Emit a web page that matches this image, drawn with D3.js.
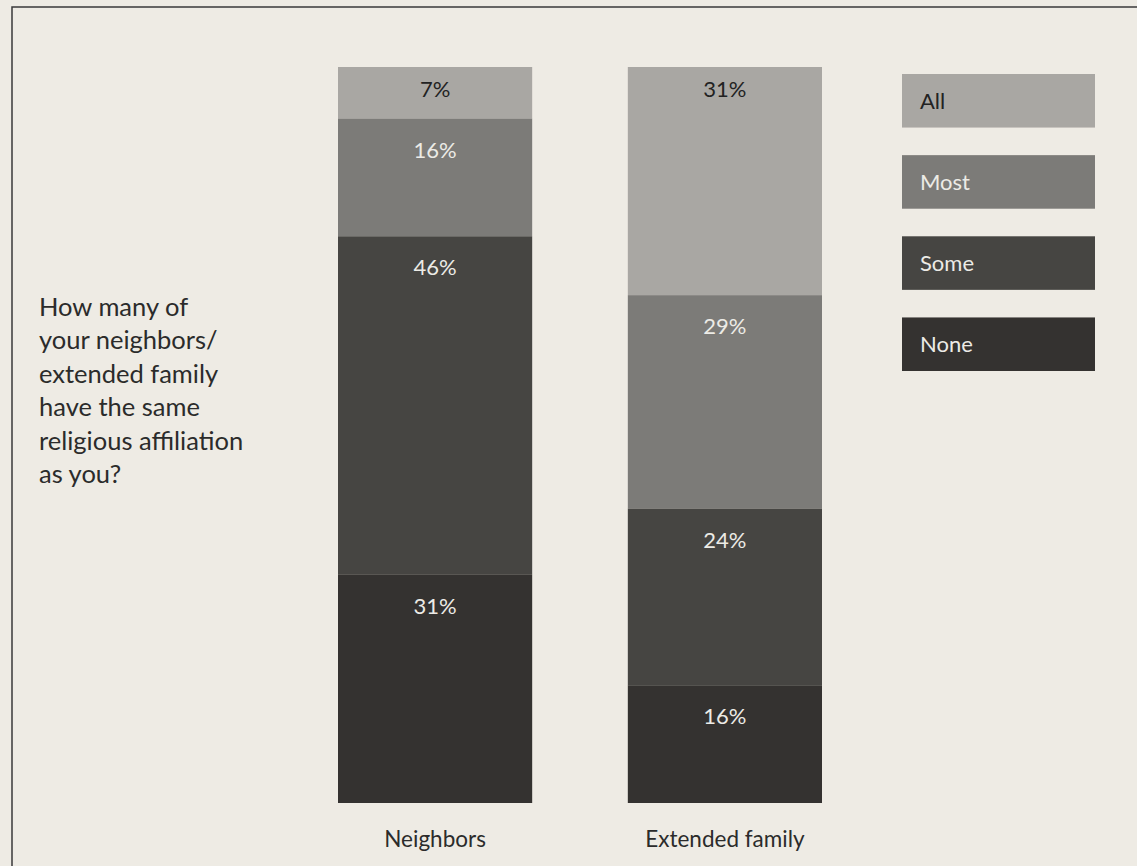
<!DOCTYPE html>
<html>
<head>
<meta charset="utf-8">
<script src="https://cdn.jsdelivr.net/npm/d3@7"></script>
<style>
  body { margin: 0; background: #eeebe4; }
  svg { display: block; font-family: Lato, 'Open Sans', sans-serif; }
</style>
</head>
<body>
<div class="bar-chart-container"></div>
<script>
// categories and series
const groups = ['Neighbors', 'Extended family'];
const levels = ['All', 'Most', 'Some', 'None'];
const neighbors = [7, 16, 46, 31];
const extendedFamily = [31, 29, 24, 16];
const question = ['How many of', 'your neighbors/', 'extended family', 'have the same', 'religious affiliation', 'as you?'];

const colors = ['#a9a7a3', '#7c7b78', '#464542', '#343230'];
const textColors = ['#222', '#ecebe6', '#ecebe6', '#ecebe6'];

// one row per group, keyed by level
const rows = groups.map((g, i) => {
    const vals = i === 0 ? neighbors : extendedFamily;
    const row = { group: g };
    levels.forEach((l, j) => row[l] = vals[j]);
    return row;
});

const width = 1137;
const height = 866;

const svg = d3.select('.bar-chart-container')
    .append('svg')
    .attr('width', width)
    .attr('height', height);

// frame lines (top and left only)
svg.append('path')
    .attr('d', `M12,${height} L12,7 L${width},7`)
    .attr('fill', 'none')
    .attr('stroke', '#3a3a3a')
    .attr('stroke-width', 1.5);

// scales
const xScale = d3.scaleBand()
    .domain(groups)
    .range([338, 822])
    .paddingInner(0.33)
    .paddingOuter(0);

const yScale = d3.scaleLinear()
    .domain([0, 100])
    .range([67, 803]);

const stacked = d3.stack().keys(levels)(rows);

// draw stacked bars
const layers = svg.selectAll('.layer')
    .data(stacked)
    .enter()
    .append('g')
    .attr('class', 'layer')
    .style('fill', (d, i) => colors[i]);

layers.selectAll('rect')
    .data(d => d)
    .enter()
    .append('rect')
    .attr('x', d => xScale(d.data.group))
    .attr('y', d => yScale(d[0]))
    .attr('width', xScale.bandwidth())
    .attr('height', d => yScale(d[1]) - yScale(d[0]));

// percent labels near top of each segment
stacked.forEach((layer, i) => {
    svg.selectAll('.lbl-' + i)
        .data(layer)
        .enter()
        .append('text')
        .attr('class', 'lbl-' + i)
        .attr('x', d => xScale(d.data.group) + xScale.bandwidth() / 2)
        .attr('y', d => yScale(d[0]) + (i === 0 ? 30 : 39))
        .attr('text-anchor', 'middle')
        .style('font-size', '22px')
        .style('fill', textColors[i])
        .text(d => (d[1] - d[0]) + '%');
});

// group labels under bars
const xAxis = d3.axisBottom(xScale).tickSize(0);
const xAxisDraw = svg.append('g')
    .attr('transform', 'translate(0,803)')
    .call(xAxis);
xAxisDraw.select('.domain').remove();
xAxisDraw.selectAll('text')
    .attr('dy', '1.8em')
    .style('font-size', '22.5px')
    .style('font-family', 'Lato, sans-serif')
    .style('fill', '#2b2b2b');

// legend
const legendY = d3.scaleBand()
    .domain(levels)
    .range([74, 371])
    .paddingInner(0.34)
    .paddingOuter(0);

const legend = svg.selectAll('.legend')
    .data(levels)
    .enter()
    .append('g')
    .attr('class', 'legend')
    .attr('transform', d => `translate(902,${legendY(d)})`);

legend.append('rect')
    .attr('width', 193)
    .attr('height', legendY.bandwidth())
    .style('fill', (d, i) => colors[i]);

legend.append('text')
    .attr('x', 18)
    .attr('y', legendY.bandwidth() / 2 + 8)
    .style('font-size', '22px')
    .style('fill', (d, i) => textColors[i])
    .text(d => d);

// question text on the left
svg.append('text')
    .attr('x', 39)
    .attr('y', 316)
    .style('font-size', '25.5px')
    .style('fill', '#2b2b2b')
    .selectAll('tspan')
    .data(question)
    .enter()
    .append('tspan')
    .attr('x', 39)
    .attr('dy', (d, i) => i === 0 ? 0 : 33.4)
    .text(d => d);
</script>
</body>
</html>
